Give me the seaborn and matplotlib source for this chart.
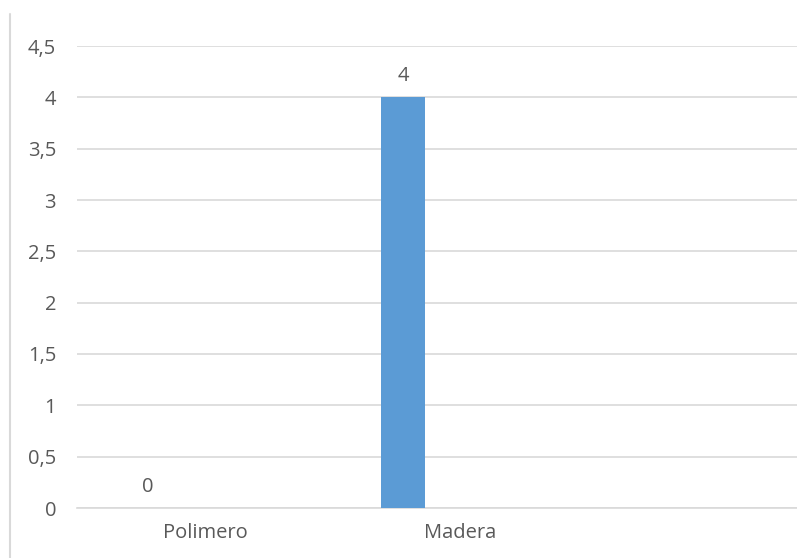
import matplotlib
matplotlib.use("Agg")
import matplotlib.pyplot as plt
from matplotlib.lines import Line2D
import seaborn as sns
import pandas as pd

# Data
categories = ["Polimero", "Madera"]
values = [0, 4]
y_ticks = [0, 0.5, 1, 1.5, 2, 2.5, 3, 3.5, 4, 4.5]

df = pd.DataFrame({"material": categories, "cantidad": values})

sns.set_theme(style="white")
plt.rcParams["font.family"] = ["Open Sans", "DejaVu Sans"]

W, H = 797, 558
fig = plt.figure(figsize=(W / 100, H / 100), dpi=100)
ax = fig.add_axes([77 / W, 50 / H, (W - 77) / W, 462 / H])

bar_color = "#5B9BD5"
text_color = "#595959"
grid_color = "#D9D9D9"
fs = 14.5

sns.barplot(data=df, x="material", y="cantidad", color=bar_color,
            width=0.176, saturation=1, linewidth=0, ax=ax, zorder=3)

ax.set_ylim(0, 4.5)
ax.set_xlim(-0.278, 2.545)
ax.set_yticks(y_ticks)
ax.set_yticklabels([f"{t:g}".replace(".", ",") for t in y_ticks])
ax.yaxis.grid(True, color=grid_color, linewidth=1.2, zorder=0)
ax.set_axisbelow(True)

# category labels sit centred in each category slot, right of the bar
ax.set_xticks([i + 0.2235 for i in range(len(categories))])
ax.set_xticklabels(categories)

ax.tick_params(axis="y", length=0, pad=15, labelsize=fs, labelcolor=text_color)
ax.tick_params(axis="x", length=0, pad=11, labelsize=fs, labelcolor=text_color)
ax.set_xlabel("")
ax.set_ylabel("")

for side in ["left", "right", "top"]:
    ax.spines[side].set_visible(False)
ax.spines["bottom"].set_color(grid_color)
ax.spines["bottom"].set_linewidth(1.2)

# value labels above each bar
for i, v in enumerate(values):
    ax.annotate(f"{v:g}".replace(".", ","), (i, v), xytext=(0, 8),
                textcoords="offset points", ha="center", va="bottom",
                fontsize=fs, color=text_color)

# left frame edge
fig.add_artist(Line2D([9.5 / W, 9.5 / W], [0, (H - 14) / H],
                      color="#D9D9D9", linewidth=1.5))

fig.savefig("out.png", dpi=100, facecolor="white")
